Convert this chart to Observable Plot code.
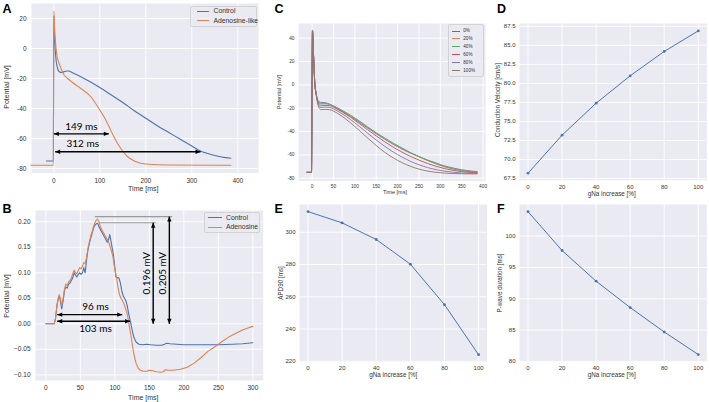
<!DOCTYPE html>
<html><head><meta charset="utf-8">
<script src="https://cdn.jsdelivr.net/npm/d3@7"></script>
<script src="https://cdn.jsdelivr.net/npm/@observablehq/plot@0.6"></script>
<style>
body{margin:0;background:#fff;}
#fig{position:relative;width:709px;height:402px;overflow:hidden;font-family:"Liberation Sans",Arial,sans-serif;color:#262626;}
#fig svg{position:absolute;overflow:visible;}
.plab{position:absolute;font-weight:bold;font-size:12.5px;color:#000;line-height:1;}
.ttl{position:absolute;white-space:nowrap;transform:translate(-50%,-50%);line-height:1;color:#333;}
.ttl.rot{transform:translate(-50%,-50%) rotate(-90deg);}
.legbox{position:absolute;background:rgba(234,234,242,0.8);border:1px solid #d2d2d2;border-radius:2px;box-sizing:border-box;}
.legline{position:absolute;height:1px;}
.legtxt{position:absolute;white-space:nowrap;transform:translateY(-50%);line-height:1;color:#333;}
</style></head>
<body><div id="fig"></div>
<script>
// ---------- DATA ----------
// Panel A: action potential [time ms, potential mV]
const aControl = [[-16,-75],[-1,-75],[0,22],[2,5],[5,-8],[8,-13],[12,-15.5],[17,-16],[25,-15.2],[32,-15],[40,-16],[50,-17.5],[75,-21.5],[100,-26],[125,-31],[150,-36],[175,-41.5],[200,-46.5],[225,-51.5],[250,-56],[275,-60.5],[300,-65],[315,-67.8],[340,-70.5],[365,-72.3],[385,-73.2]];
const aAdenosine = [[-50,-77.8],[-1,-77.8],[0,25],[2,12],[4,3],[7,-5],[11,-9.5],[16,-13.5],[22,-17.5],[30,-20],[40,-22.5],[58,-26.5],[80,-32],[100,-41],[110,-46],[120,-52],[130,-58.5],[140,-64],[150,-68.5],[160,-72],[175,-75],[200,-77],[250,-77.7],[385,-77.8]];
const annotA = [
  {x1:0, x2:119.6, y:-56.9, label:"149 ms", lx:60, ly:-52},
  {x1:3, x2:319, y:-68.8, label:"312 ms", lx:63, ly:-63.7}
];
// Panel B: P-wave [time ms, potential mV]
const bControl = [[0,0],[12,0],[14,0.01],[16,0.035],[18,0.05],[19.5,0.055],[21,0.045],[23,0.029],[25,0.045],[27,0.065],[29,0.072],[31,0.07],[33,0.078],[35,0.08],[37,0.085],[39,0.09],[41,0.1],[43,0.095],[45,0.092],[47,0.097],[49,0.1],[51,0.097],[53,0.1],[55,0.11],[57,0.1],[59,0.125],[61,0.145],[63,0.157],[65,0.168],[67,0.177],[69,0.187],[71,0.193],[73,0.196],[75,0.197],[77,0.19],[79,0.185],[81,0.18],[83,0.175],[85,0.17],[87,0.165],[89,0.16],[91,0.165],[92.5,0.175],[94,0.165],[96,0.15],[98,0.135],[100,0.11],[101.5,0.092],[104,0.09],[106,0.09],[108,0.08],[110,0.065],[112,0.055],[114,0.05],[116,0.045],[118,0.035],[120,0.02],[122,0.008],[124,-0.005],[126,-0.018],[128,-0.028],[131,-0.036],[135,-0.04],[140,-0.041],[146,-0.04],[152,-0.041],[160,-0.042],[168,-0.042],[172,-0.04],[175,-0.038],[180,-0.039],[190,-0.04],[200,-0.041],[220,-0.041],[250,-0.041],[270,-0.04],[285,-0.039],[300,-0.037]];
const bAdenosine = [[0,0],[12,0],[14,0.01],[16,0.035],[18,0.05],[19.5,0.057],[21,0.05],[23,0.035],[25,0.05],[27,0.068],[29,0.078],[31,0.075],[33,0.082],[35,0.085],[37,0.09],[39,0.098],[41,0.105],[43,0.1],[45,0.098],[47,0.105],[49,0.11],[51,0.108],[53,0.112],[55,0.12],[57,0.118],[59,0.13],[61,0.148],[63,0.16],[65,0.172],[67,0.18],[69,0.19],[71,0.198],[73,0.203],[75,0.205],[77,0.2],[79,0.19],[81,0.185],[83,0.18],[85,0.175],[87,0.17],[89,0.165],[91,0.16],[93,0.152],[95,0.143],[97,0.133],[99,0.115],[101,0.1],[103,0.085],[105,0.068],[107,0.056],[109,0.05],[111,0.045],[113,0.04],[115,0.032],[117,0.024],[119,0.012],[121,-0.005],[123,-0.02],[125,-0.038],[127,-0.055],[129,-0.068],[131,-0.078],[134,-0.087],[137,-0.091],[141,-0.093],[146,-0.093],[150,-0.091],[155,-0.092],[160,-0.094],[166,-0.095],[170,-0.094],[173,-0.09],[178,-0.091],[185,-0.091],[195,-0.089],[205,-0.085],[215,-0.077],[225,-0.066],[235,-0.054],[245,-0.045],[255,-0.035],[265,-0.026],[275,-0.019],[285,-0.012],[295,-0.007],[300,-0.005]];
const refLinesB = [{x1:71, x2:183, y:0.210}, {x1:77, x2:159, y:0.198}];
const vArrowsB = [
  {x:155.6, y1:0.0, y2:0.198, label:"0.196 mV", lx:146, ly:0.099},
  {x:179, y1:0.0, y2:0.210, label:"0.205 mV", lx:170, ly:0.099}
];
const hArrowsB = [
  {x1:16.5, x2:110.7, y:0.018, label:"96 ms", lx:72, ly:0.033},
  {x1:16.5, x2:122, y:0.005, label:"103 ms", lx:72, ly:-0.010}
];
// Panel C: APs for gNa increases [time ms, mV]
const cLabels = ["0%","20%","40%","60%","80%","100%"];
const upstroke = [[-12,-75],[-1.5,-75],[0.8,46.5],[3,28],[6,3],[10,-9]];
const c0 = [[14,-13.5],[20,-15],[30,-15.3],[40,-16.5],[50,-18.5],[70,-22.5],[90,-27],[110,-32],[130,-37],[150,-42],[170,-46.5],[190,-51],[210,-55],[230,-58.5],[250,-61.5],[270,-64.5],[290,-67],[310,-69.5],[330,-71.3],[350,-72.8],[370,-73.8],[386,-74.3]];
const c20 = [[14,-14],[20,-15.8],[30,-15.8],[40,-16.4],[50,-18.2],[70,-22.1],[90,-26.5],[110,-31.3],[130,-36.4],[150,-41.4],[170,-46],[190,-50.5],[210,-54.5],[230,-58.3],[250,-61.6],[270,-64.7],[290,-67.4],[310,-69.9],[330,-71.8],[350,-73.2],[370,-74.1],[386,-74.6]];
const c40 = [[14,-14.5],[20,-16.5],[30,-16.2],[40,-16.5],[50,-18],[70,-21.8],[90,-26],[110,-30.8],[130,-36],[150,-41],[170,-45.5],[190,-50],[210,-54],[230,-58],[250,-61.5],[270,-64.8],[290,-67.8],[310,-70.3],[330,-72.2],[350,-73.6],[370,-74.4],[386,-74.8]];
const c60 = [[14,-15.5],[20,-18],[30,-17.5],[40,-17.8],[50,-19.2],[70,-23.2],[90,-27.8],[110,-33],[130,-38.5],[150,-43.8],[170,-48.8],[190,-53.5],[210,-57.6],[230,-61.3],[250,-64.5],[270,-67.4],[290,-69.8],[310,-71.8],[330,-73.3],[350,-74.4],[370,-75.1],[386,-75.4]];
const c80 = [[14,-16.5],[20,-19.5],[30,-19],[40,-19.3],[50,-20.6],[70,-24.8],[90,-29.8],[110,-35.5],[130,-41.5],[150,-47.3],[170,-52.7],[190,-57.6],[210,-61.8],[230,-65.5],[250,-68.5],[270,-70.9],[290,-72.7],[310,-74],[330,-74.9],[350,-75.5],[370,-75.8],[386,-76]];
const c100 = [[14,-17.5],[20,-21.2],[30,-21],[40,-21.2],[50,-22.5],[70,-27],[90,-32.6],[110,-39],[130,-45.6],[150,-52],[170,-57.8],[190,-62.6],[210,-66.6],[230,-69.8],[250,-72.2],[270,-73.9],[290,-75],[310,-75.6],[330,-76],[350,-76.2],[370,-76.3],[386,-76.3]];
// Panels D, E, F
const gNa = [0,20,40,60,80,100];
const condVel = [68.2,73.2,77.4,81.0,84.2,86.9];
const apd90 = [312.8,305.8,295.5,280.2,255.1,224.1];
const pWave = [103.9,97.7,92.8,88.6,84.7,81.1];

// ---------- STYLE ----------
const BG = "#EAEAF2";
const PAL = ["#4C72B0","#DD8452","#55A868","#C44E52","#8172B3","#937860"];
const FONT = "'Liberation Sans', Arial, sans-serif";
const ANN_FONT = "Lato, 'Open Sans', sans-serif";

const fig = document.getElementById("fig");

// arrow head symbols: tip at origin
const L = 5, W = 2.2;
const tipLeft  = {draw(c){c.moveTo(0,0);c.lineTo(L,-W);c.lineTo(L,W);c.closePath();}};
const tipRight = {draw(c){c.moveTo(0,0);c.lineTo(-L,-W);c.lineTo(-L,W);c.closePath();}};
const tipUp    = {draw(c){c.moveTo(0,0);c.lineTo(-W,L);c.lineTo(W,L);c.closePath();}};
const tipDown  = {draw(c){c.moveTo(0,0);c.lineTo(-W,-L);c.lineTo(W,-L);c.closePath();}};

function panel(cfg){
  const {box, xDomain, yDomain, xTicks, yTicks, xFmt, yFmt, fs, padX, padY, marks} = cfg;
  const mL = 45, mR = 6, mT = 6, mB = 20;
  const w = box.right - box.left, h = box.bottom - box.top;
  const svg = Plot.plot({
    width: w + mL + mR, height: h + mT + mB,
    marginLeft: mL, marginRight: mR, marginTop: mT, marginBottom: mB,
    x: {domain: xDomain}, y: {domain: yDomain},
    style: {background: "transparent", fontFamily: FONT, fontSize: fs + "px", color: "#333", overflow: "visible"},
    marks: [
      Plot.frame({fill: BG, stroke: "none"}),
      Plot.gridX({ticks: xTicks, stroke: "#fff", strokeOpacity: 1, strokeWidth: 0.9}),
      Plot.gridY({ticks: yTicks, stroke: "#fff", strokeOpacity: 1, strokeWidth: 0.9}),
      Plot.axisX({ticks: xTicks, tickSize: 0, tickPadding: padX, label: null, tickFormat: xFmt || (d => String(d)), fontSize: fs}),
      Plot.axisY({ticks: yTicks, tickSize: 0, tickPadding: padY, label: null, tickFormat: yFmt || (d => String(d)), fontSize: fs}),
      ...marks
    ]
  });
  svg.style.left = (box.left - mL) + "px";
  svg.style.top = (box.top - mT) + "px";
  fig.appendChild(svg);
}
function txt(s, x, y, fs, rot){
  const d = document.createElement("div");
  d.className = "ttl" + (rot ? " rot" : "");
  d.textContent = s; d.style.left = x + "px"; d.style.top = y + "px"; d.style.fontSize = fs + "px";
  fig.appendChild(d);
}
function plab(s, x, y){
  const d = document.createElement("div");
  d.className = "plab"; d.textContent = s; d.style.left = x + "px"; d.style.top = y + "px";
  fig.appendChild(d);
}
function legend(box, items, fs){
  const b = document.createElement("div");
  b.className = "legbox";
  Object.assign(b.style, {left: box.x + "px", top: box.y + "px", width: box.w + "px", height: box.h + "px"});
  fig.appendChild(b);
  items.forEach((it, i) => {
    const y = box.row0 + i * box.rowH;
    const ln = document.createElement("div");
    ln.className = "legline";
    Object.assign(ln.style, {left: box.lx0 + "px", width: (box.lx1 - box.lx0) + "px", top: Math.round(y - 0.5) + "px", background: it.color});
    fig.appendChild(ln);
    const t = document.createElement("div");
    t.className = "legtxt"; t.textContent = it.label;
    Object.assign(t.style, {left: box.tx + "px", top: y + "px", fontSize: fs + "px"});
    fig.appendChild(t);
  });
}
const X = d => d[0], Y = d => d[1];

// ---------- PANEL A ----------
panel({
  box: {left: 31, right: 258, top: 2.7, bottom: 172.2},
  xDomain: [-48.5, 445], yDomain: [-83, 30],
  xTicks: [0,100,200,300,400], yTicks: [-80,-60,-40,-20,0,20],
  fs: 6.5, padX: 5, padY: 5,
  marks: [
    Plot.line(aControl, {x: X, y: Y, stroke: PAL[0], strokeWidth: 1.1, curve: "monotone-x"}),
    Plot.line(aAdenosine, {x: X, y: Y, stroke: PAL[1], strokeWidth: 1.1, curve: "monotone-x"}),
    Plot.link(annotA, {x1: "x1", x2: "x2", y1: "y", y2: "y", stroke: "#000", strokeWidth: 1.4}),
    Plot.dot(annotA, {x: "x1", y: "y", symbol: tipLeft, fill: "#000", stroke: "none", r: 3}),
    Plot.dot(annotA, {x: "x2", y: "y", symbol: tipRight, fill: "#000", stroke: "none", r: 3}),
    Plot.text(annotA, {x: "lx", y: "ly", text: "label", fontFamily: ANN_FONT, fontSize: 10, fill: "#000"})
  ]
});
txt("Time [ms]", 143.3, 188, 7);
txt("Potential [mV]", 6, 87, 7, true);
legend({x: 190, y: 6, w: 67, h: 21, row0: 11.3, rowH: 9.4, lx0: 197, lx1: 208.5, tx: 213.5},
  [{label: "Control", color: PAL[0]}, {label: "Adenosine-like", color: PAL[1]}], 6.8);
plab("A", 2.5, 2.5);

// ---------- PANEL B ----------
panel({
  box: {left: 35, right: 262.7, top: 210, bottom: 380},
  xDomain: [-15, 315], yDomain: [-0.111, 0.222],
  xTicks: [0,50,100,150,200,250,300], yTicks: [-0.10,-0.05,0,0.05,0.10,0.15,0.20],
  yFmt: d3.format(".2f"),
  fs: 6.5, padX: 5, padY: 5,
  marks: [
    Plot.line(bControl, {x: X, y: Y, stroke: PAL[0], strokeWidth: 1.1}),
    Plot.line(bAdenosine, {x: X, y: Y, stroke: PAL[1], strokeWidth: 1.1}),
    Plot.link(refLinesB, {x1: "x1", x2: "x2", y1: "y", y2: "y", stroke: "#9a9a9a", strokeWidth: 1.2}),
    Plot.link(vArrowsB, {x1: "x", x2: "x", y1: "y1", y2: "y2", stroke: "#000", strokeWidth: 1.4}),
    Plot.dot(vArrowsB, {x: "x", y: "y1", symbol: tipDown, fill: "#000", stroke: "none", r: 3}),
    Plot.dot(vArrowsB, {x: "x", y: "y2", symbol: tipUp, fill: "#000", stroke: "none", r: 3}),
    Plot.text(vArrowsB, {x: "lx", y: "ly", text: "label", rotate: -90, fontFamily: ANN_FONT, fontSize: 10, fill: "#000"}),
    Plot.link(hArrowsB, {x1: "x1", x2: "x2", y1: "y", y2: "y", stroke: "#000", strokeWidth: 1.4}),
    Plot.dot(hArrowsB, {x: "x1", y: "y", symbol: tipLeft, fill: "#000", stroke: "none", r: 3}),
    Plot.dot(hArrowsB, {x: "x2", y: "y", symbol: tipRight, fill: "#000", stroke: "none", r: 3}),
    Plot.text(hArrowsB, {x: "lx", y: "ly", text: "label", fontFamily: ANN_FONT, fontSize: 10, fill: "#000"})
  ]
});
txt("Time [ms]", 143.3, 396.5, 7);
txt("Potential [mV]", 6, 296, 7, true);
legend({x: 203.5, y: 212, w: 56, h: 21, row0: 217.8, rowH: 9.4, lx0: 208, lx1: 221.5, tx: 226},
  [{label: "Control", color: PAL[0]}, {label: "Adenosine", color: PAL[1]}], 6.8);
plab("B", 2.5, 202.5);

// ---------- PANEL C ----------
const cSeries = [c0, c20, c40, c60, c80, c100];
panel({
  box: {left: 298.4, right: 485.5, top: 23, bottom: 180.5},
  xDomain: [-31.9, 405.9], yDomain: [-82.4, 52.6],
  xTicks: [0,50,100,150,200,250,300,350,400], yTicks: [-80,-60,-40,-20,0,20,40],
  fs: 4.8, padX: 4, padY: 4,
  marks: cSeries.map((s, i) => Plot.line(upstroke.concat(s), {x: X, y: Y, stroke: PAL[i], strokeWidth: 0.9, curve: "monotone-x"}))
});
txt("Time [ms]", 395, 192.5, 5.5);
txt("Potential [mV]", 280, 92, 5.5, true);
legend({x: 448, y: 24, w: 35.5, h: 53, row0: 31, rowH: 7.9, lx0: 451.7, lx1: 460, tx: 463.3},
  cLabels.map((l, i) => ({label: l, color: PAL[i]})), 4.6);
plab("C", 274.5, 2.5);

// ---------- PANELS D, E, F ----------
const dotPanel = (box, vals, yDomain, yTicks, yFmt) => panel({
  box, xDomain: [-5, 105], yDomain, xTicks: gNa, yTicks, yFmt,
  fs: 6, padX: 4, padY: 4,
  marks: [
    Plot.line(gNa.map((g, i) => [g, vals[i]]), {x: X, y: Y, stroke: PAL[0], strokeWidth: 1}),
    Plot.dot(gNa.map((g, i) => [g, vals[i]]), {x: X, y: Y, fill: PAL[0], stroke: "none", r: 1.4})
  ]
});
dotPanel({left: 518.5, right: 705.8, top: 23.2, bottom: 180}, condVel, [67.27, 87.87],
  [67.5,70,72.5,75,77.5,80,82.5,85,87.5], d3.format(".1f"));
txt("gNa increase [%]", 611.7, 194, 6.3);
txt("Conduction Velocity [cm/s]", 497.5, 100, 6.3, true);
plab("D", 497, 2.5);

dotPanel({left: 299.2, right: 486.8, top: 203.9, bottom: 361.2}, apd90, [219.7, 317.2],
  [220,240,260,280,300]);
txt("gNa increase [%]", 393.3, 375, 6.3);
txt("APD90 [ms]", 281, 283, 6.3, true);
plab("E", 274.5, 202.5);

dotPanel({left: 518.5, right: 705.8, top: 203.7, bottom: 360.9}, pWave, [79.96, 105.04],
  [80,85,90,95,100]);
txt("gNa increase [%]", 611.7, 375, 6.3);
txt("P-wave duration [ms]", 499.5, 283, 6.3, true);
plab("F", 497, 202.5);
</script>
</body></html>
